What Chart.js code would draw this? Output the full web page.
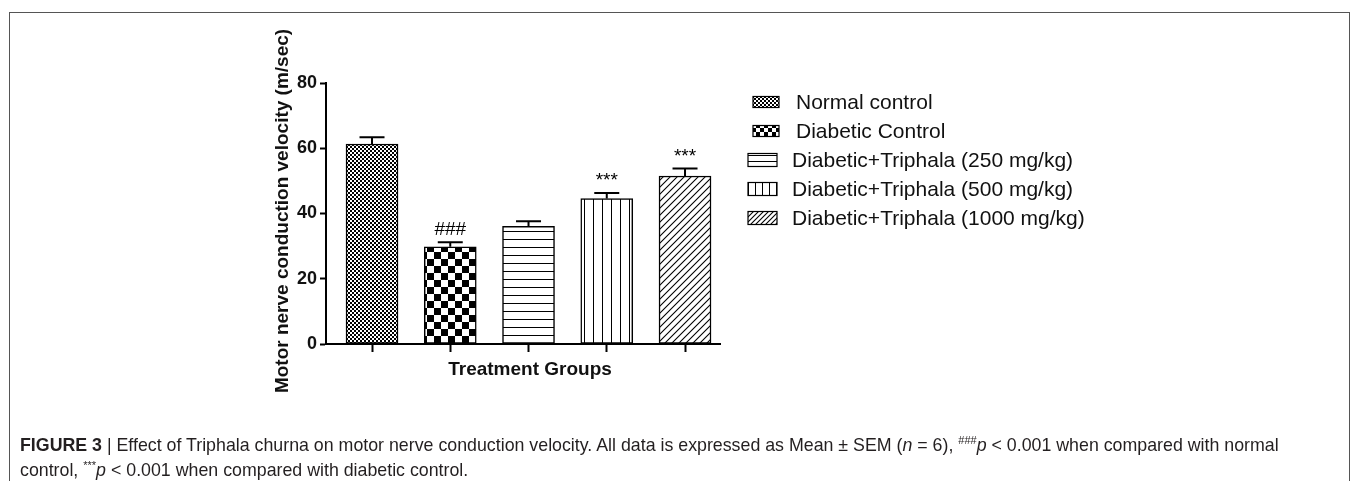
<!DOCTYPE html>
<html>
<head>
<meta charset="utf-8">
<script src="https://cdn.jsdelivr.net/npm/chart.js@4.4.1/dist/chart.umd.min.js"></script>
<style>
  body { margin: 0; background: #fff; width: 1357px; height: 481px; overflow: hidden; position: relative; font-family: "Liberation Sans", Arial, sans-serif; }
  #frame { position: absolute; left: 9px; top: 12px; width: 1339px; height: 480px; border: 1.5px solid #555; border-bottom: none; }
  #grafico { position: absolute; left: 0; top: 0; }
  .legenda { position: absolute; left: 20px; font-size: 17.8px; color: #231f20; white-space: nowrap; }
  .legenda sup { font-size: 11px; }
</style>
</head>
<body>
<div id="frame"></div>
<canvas id="grafico" width="1357" height="481"></canvas>
<div class="legenda" style="top: 434px;"><b>FIGURE 3</b> | Effect of Triphala churna on motor nerve conduction velocity. All data is expressed as Mean ± SEM (<i>n</i> = 6), <sup>###</sup><i>p</i> &lt; 0.001 when compared with normal</div>
<div class="legenda" style="top: 459px;">control, <sup>***</sup><i>p</i> &lt; 0.001 when compared with diabetic control.</div>
<script>
// dados
const grupos = ['Normal control', 'Diabetic Control', 'Diabetic+Triphala (250 mg/kg)', 'Diabetic+Triphala (500 mg/kg)', 'Diabetic+Triphala (1000 mg/kg)'];
const medias = [61.3, 29.8, 36.1, 44.6, 51.5];
const erros = [2.1, 1.4, 1.5, 1.7, 2.3];
const significancia = ['', '###', '', '***', '***'];
const ticksY = [0, 20, 40, 60, 80];

const fonte = '"Liberation Sans", Arial, sans-serif';

// padroes de preenchimento
function criarPadrao(tipo, tam){
    let c = document.createElement('canvas');
    let g = c.getContext('2d');
    switch(tipo){
        case 'xadrezFino':
            c.width = 2 * tam; c.height = 2 * tam;
            g.fillStyle = '#fff'; g.fillRect(0, 0, c.width, c.height);
            g.fillStyle = '#000';
            g.fillRect(0, 0, tam, tam);
            g.fillRect(tam, tam, tam, tam);
            break;
        case 'horizontal':
            c.width = tam; c.height = tam;
            g.fillStyle = '#fff'; g.fillRect(0, 0, tam, tam);
            g.fillStyle = '#000'; g.fillRect(0, tam - 1, tam, 1);
            break;
        case 'vertical':
            c.width = tam; c.height = tam;
            g.fillStyle = '#fff'; g.fillRect(0, 0, tam, tam);
            g.fillStyle = '#000'; g.fillRect(tam - 1, 0, 1, tam);
            break;
        case 'diagonal':
            c.width = tam; c.height = tam;
            g.fillStyle = '#fff'; g.fillRect(0, 0, tam, tam);
            g.strokeStyle = '#000'; g.lineWidth = 1.1;
            g.beginPath();
            g.moveTo(-1, tam + 1); g.lineTo(tam + 1, -1);
            g.moveTo(-2, 2); g.lineTo(2, -2);
            g.moveTo(tam - 2, tam + 2); g.lineTo(tam + 2, tam - 2);
            g.stroke();
            break;
    }
    return c;
}

let ctx = document.getElementById('grafico').getContext('2d');

let padroesBarras = [
    ctx.createPattern(criarPadrao('xadrezFino', 2), 'repeat'),
    ctx.createPattern(criarPadrao('xadrezFino', 7), 'repeat'),
    ctx.createPattern(criarPadrao('horizontal', 8), 'repeat'),
    ctx.createPattern(criarPadrao('vertical', 9), 'repeat'),
    ctx.createPattern(criarPadrao('diagonal', 7), 'repeat')
];
let padroesLegenda = [
    ctx.createPattern(criarPadrao('xadrezFino', 2), 'repeat'),
    ctx.createPattern(criarPadrao('xadrezFino', 4), 'repeat'),
    ctx.createPattern(criarPadrao('horizontal', 6), 'repeat'),
    ctx.createPattern(criarPadrao('vertical', 7), 'repeat'),
    ctx.createPattern(criarPadrao('diagonal', 5), 'repeat')
];

// barras de erro, asteriscos, titulos e legenda
const extras = {
    id: 'extras',
    afterDatasetsDraw(chart){
        let g = chart.ctx;
        let x = chart.scales.x, y = chart.scales.y;
        g.save();
        g.strokeStyle = '#000';
        g.lineWidth = 2;
        for(let i = 0; i < medias.length; i++){
            let px = x.getPixelForValue(i);
            let topo = y.getPixelForValue(medias[i] + erros[i]);
            let base = y.getPixelForValue(medias[i]);
            g.beginPath();
            g.moveTo(px, base); g.lineTo(px, topo);
            g.moveTo(px - 12.5, topo); g.lineTo(px + 12.5, topo);
            g.stroke();
            if(significancia[i]){
                g.fillStyle = '#000';
                g.font = '19px ' + fonte;
                g.textAlign = 'center';
                g.textBaseline = 'middle';
                g.fillText(significancia[i], px, topo - 12);
            }
        }
        g.restore();
    },
    afterDraw(chart){
        let g = chart.ctx;
        g.save();
        g.fillStyle = '#111';
        // titulo eixo x
        g.font = 'bold 19px ' + fonte;
        g.textAlign = 'center';
        g.textBaseline = 'middle';
        g.fillText('Treatment Groups', 530, 370);
        // titulo eixo y
        g.save();
        g.translate(283, 211);
        g.rotate(-Math.PI / 2);
        g.font = 'bold 19px ' + fonte;
        g.fillText('Motor nerve conduction velocity (m/sec)', 0, 0);
        g.restore();
        // legenda
        let yLeg = 102;
        for(let i = 0; i < grupos.length; i++){
            let yy = yLeg + i * 29;
            let largo = i < 2 ? 26 : 29;
            let xs = i < 2 ? 753 : 748;
            let alto = i < 2 ? 11 : 13;
            g.fillStyle = padroesLegenda[i];
            g.fillRect(xs, yy - alto / 2, largo, alto);
            g.strokeStyle = '#000';
            g.lineWidth = 1.2;
            g.strokeRect(xs, yy - alto / 2, largo, alto);
            g.fillStyle = '#111';
            g.font = '21px ' + fonte;
            g.textAlign = 'left';
            g.fillText(grupos[i], i < 2 ? 796 : 792, yy + 1);
        }
        g.restore();
    }
};

let meuGrafico = new Chart(ctx, {
    type: 'bar',
    data: {
        datasets: [{
            data: medias.map((v, i) => ({x: i, y: v})),
            backgroundColor: padroesBarras,
            borderColor: '#000',
            borderWidth: 1.5,
            borderSkipped: false,
            barThickness: 52
        }]
    },
    options: {
        responsive: false,
        animation: false,
        events: [],
        layout: { padding: { top: 83, right: 637, bottom: 0, left: 0 } },
        plugins: { legend: { display: false }, tooltip: { enabled: false } },
        scales: {
            x: {
                type: 'linear',
                min: -0.588,
                max: 4.447,
                offset: false,
                afterBuildTicks: (s) => { s.ticks = grupos.map((g, i) => ({value: i})); },
                afterFit: (s) => { s.height = 137; },
                ticks: { display: false },
                grid: { offset: false, drawOnChartArea: false, drawTicks: true, tickLength: 8, tickWidth: 2, tickColor: '#000' },
                border: { display: true, color: '#000', width: 2 }
            },
            y: {
                min: 0,
                max: 80,
                afterBuildTicks: (s) => { s.ticks = ticksY.map(v => ({value: v})); },
                afterFit: (s) => { s.width = 326; },
                ticks: { color: '#111', padding: 3, font: { family: fonte, size: 18, weight: 'bold' } },
                grid: { drawOnChartArea: false, drawTicks: true, tickLength: 6, tickWidth: 2, tickColor: '#000' },
                border: { display: true, color: '#000', width: 2 }
            }
        }
    },
    plugins: [extras]
});
</script>
</body>
</html>
